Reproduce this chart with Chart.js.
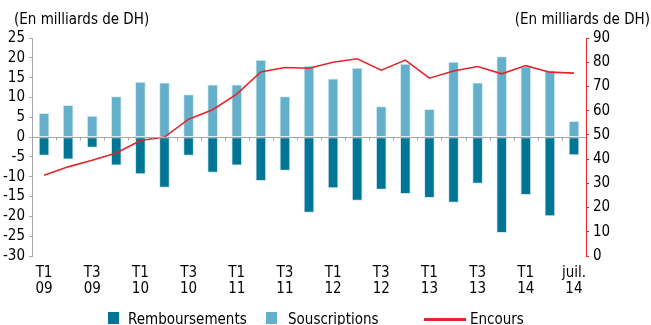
<!DOCTYPE html>
<html lang="fr">
<head>
<meta charset="utf-8">
<script src="https://cdn.jsdelivr.net/npm/chart.js@4.4.1/dist/chart.umd.min.js"></script>
<style>
  html, body { margin: 0; padding: 0; overflow: hidden; background: #fff; }
  #wrap { position: relative; width: 651px; height: 332px; }
</style>
</head>
<body>
<div id="wrap"><canvas id="graph"></canvas></div>
<script>
// Trimestres T1 2009 -> juillet 2014
const trimestres = [
  "T1 09", "T2 09", "T3 09", "T4 09",
  "T1 10", "T2 10", "T3 10", "T4 10",
  "T1 11", "T2 11", "T3 11", "T4 11",
  "T1 12", "T2 12", "T3 12", "T4 12",
  "T1 13", "T2 13", "T3 13", "T4 13",
  "T1 14", "T2 14", "juil. 14"
];

// En milliards de DH
const souscriptions = [6.0, 8.0, 5.3, 10.2, 13.9, 13.7, 10.7, 13.2, 13.2, 19.4, 10.2, 17.9,
  14.7, 17.4, 7.7, 18.4, 7.0, 18.9, 13.7, 20.3, 17.7, 16.7, 4.0];
const remboursements = [-4.6, -5.6, -2.6, -7.1, -9.3, -12.7, -4.6, -8.9, -7.1, -11.0, -8.4, -19.0,
  -12.8, -16.0, -13.2, -14.3, -15.3, -16.5, -11.7, -24.1, -14.5, -19.9, -4.5];
const encours = [33.3, 36.8, 39.5, 42.5, 47.7, 49.1, 56.5, 60.4, 66.8, 76.0, 77.8, 77.5,
  80.0, 81.4, 76.7, 80.9, 73.4, 76.4, 78.2, 75.2, 78.6, 75.9, 75.5];

const FONT = "'Liberation Sans Narrow', 'DejaVu Sans Condensed', 'Arial Narrow', sans-serif";
const C_REMB = "#007595";
const C_SOUS = "#64afc9";
const C_ENC = "#e4252b";
const C_AXE = "#a6a6a6";

Chart.defaults.font.family = FONT;
Chart.defaults.color = "#000";

// ligne du zéro + petites graduations entre les trimestres
const ligneZero = {
  id: "ligneZero",
  afterDatasetsDraw(chart) {
    const { ctx, chartArea, scales } = chart;
    const y0 = Math.round(scales.y.getPixelForValue(0)) + 0.5;
    ctx.save();
    ctx.strokeStyle = C_AXE;
    ctx.lineWidth = 1;
    ctx.beginPath();
    ctx.moveTo(chartArea.left, y0);
    ctx.lineTo(chartArea.right, y0);
    for (let i = 0; i < trimestres.length - 1; i++) {
      const x = Math.round(scales.x.getPixelForValue(i + 0.5)) + 0.5;
      ctx.moveTo(x, y0);
      ctx.lineTo(x, y0 + 3);
    }
    ctx.stroke();
    ctx.restore();
  }
};

// titres d'axes et légende
const habillage = {
  id: "habillage",
  afterDraw(chart) {
    const ctx = chart.ctx;
    ctx.save();
    ctx.fillStyle = "#000";
    ctx.font = "15px " + FONT;
    ctx.textBaseline = "alphabetic";
    ctx.textAlign = "left";
    ctx.fillText("(En milliards de DH)", 14, 24);
    ctx.textAlign = "right";
    ctx.fillText("(En milliards de DH)", 650, 24);

    const ds = chart.data.datasets;
    ctx.textAlign = "left";
    ctx.font = "15px " + FONT;
    // Remboursements
    ctx.fillStyle = ds[1].backgroundColor;
    ctx.fillRect(108, 312, 11, 12);
    ctx.fillStyle = "#000";
    ctx.fillText(ds[1].label, 128, 324);
    // Souscriptions
    ctx.fillStyle = ds[2].backgroundColor;
    ctx.fillRect(266, 312, 11, 12);
    ctx.fillStyle = "#000";
    ctx.fillText(ds[2].label, 288, 324);
    // Encours
    ctx.strokeStyle = ds[0].borderColor;
    ctx.lineWidth = 3;
    ctx.beginPath();
    ctx.moveTo(424, 319.5);
    ctx.lineTo(466, 319.5);
    ctx.stroke();
    ctx.fillText(ds[0].label, 470, 324);
    ctx.restore();
  }
};

new Chart(document.getElementById("graph"), {
  data: {
    labels: trimestres,
    datasets: [
      {
        type: "line",
        label: "Encours",
        data: encours,
        yAxisID: "y2",
        borderColor: C_ENC,
        borderWidth: 1.6,
        pointRadius: 0,
        tension: 0,
        order: 0
      },
      {
        type: "bar",
        label: "Remboursements",
        data: remboursements,
        yAxisID: "y",
        stack: "flux",
        backgroundColor: C_REMB,
        borderColor: "#cfe6ef",
        borderWidth: 1,
        borderSkipped: false,
        barThickness: 10,
        order: 1
      },
      {
        type: "bar",
        label: "Souscriptions",
        data: souscriptions,
        yAxisID: "y",
        stack: "flux",
        backgroundColor: C_SOUS,
        borderColor: "#d6ebf2",
        borderWidth: 1,
        borderSkipped: false,
        barThickness: 10,
        order: 1
      }
    ]
  },
  options: {
    responsive: true,
    maintainAspectRatio: false,
    animation: false,
    layout: { padding: { top: 38, left: 0, right: 0, bottom: 0 } },
    plugins: {
      legend: { display: false },
      tooltip: { enabled: false }
    },
    scales: {
      x: {
        stacked: true,
        grid: { display: false, drawTicks: false },
        border: { display: false },
        ticks: {
          autoSkip: false,
          maxRotation: 0,
          padding: 9,
          font: { size: 15, lineHeight: 1.05 },
          callback: (v, i) => i % 2 === 0 || i === trimestres.length - 1 ? trimestres[i].split(" ") : ""
        },
        afterFit: s => { s.height = 76; }
      },
      y: {
        position: "left",
        stacked: true,
        min: -30,
        max: 25,
        ticks: { stepSize: 5, autoSkip: false, padding: 4, font: { size: 15 } },
        grid: { drawOnChartArea: false, color: C_AXE, tickLength: 3 },
        border: { color: C_AXE },
        afterFit: s => { s.width = 32; }
      },
      y2: {
        position: "right",
        stacked: false,
        min: 0,
        max: 90,
        ticks: { stepSize: 10, autoSkip: false, padding: 4, font: { size: 15 } },
        grid: { drawOnChartArea: false, color: C_ENC, tickLength: 3 },
        border: { color: C_ENC },
        afterFit: s => { s.width = 65; }
      }
    }
  },
  plugins: [ligneZero, habillage]
});
</script>
</body>
</html>
